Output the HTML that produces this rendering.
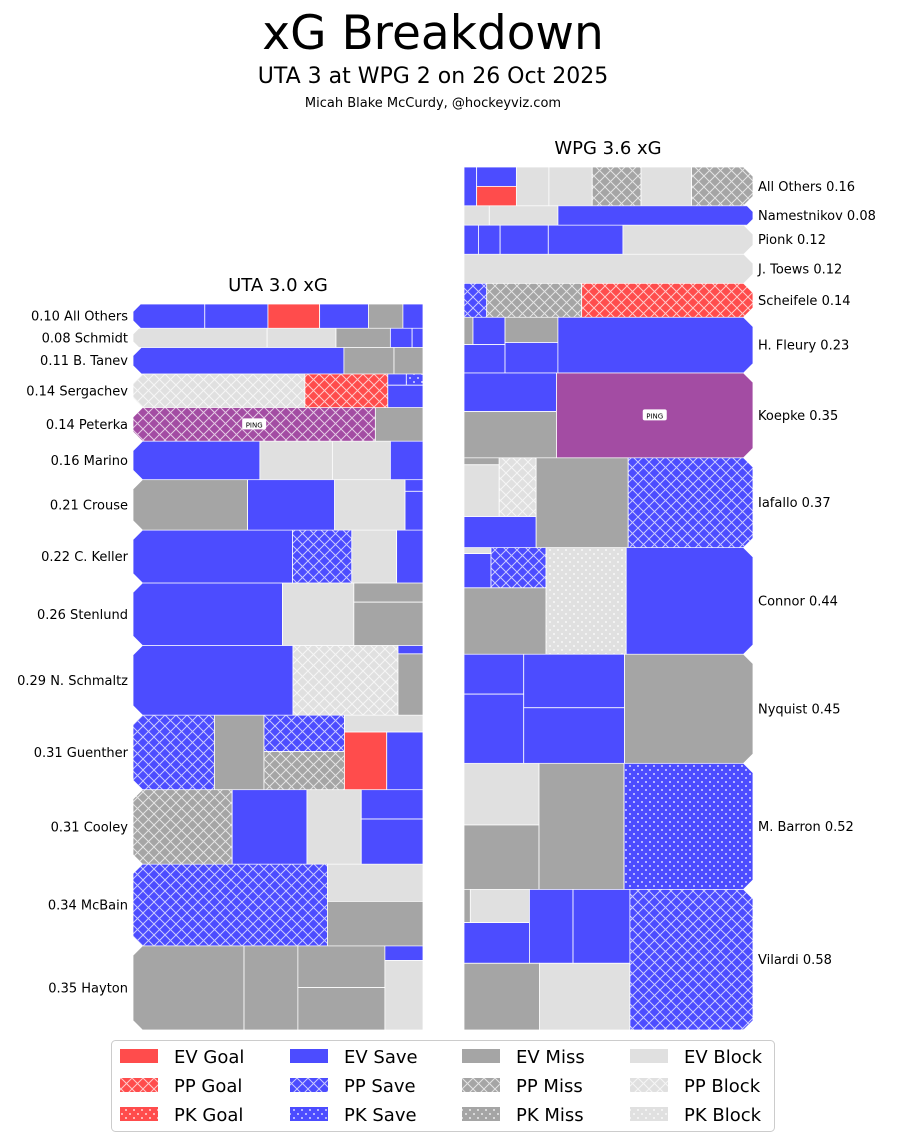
<!DOCTYPE html>
<html><head><meta charset="utf-8">
<style>
html,body{margin:0;padding:0;background:#fff;}
body{width:898px;height:1142px;overflow:hidden;font-family:"Liberation Sans","DejaVu Sans",sans-serif;}
</style></head>
<body>
<svg id="chart" width="898" height="1142" viewBox="0 0 898 1142" xmlns="http://www.w3.org/2000/svg" font-family="'DejaVu Sans','Liberation Sans',sans-serif">
<defs>
<pattern id="hatch" width="11" height="11" patternUnits="userSpaceOnUse">
<path d="M-1,1 L1,-1 M0,11 L11,0 M10,12 L12,10 M-1,10 L1,12 M0,0 L11,11 M10,-1 L12,1" stroke="#fff" stroke-opacity="0.7" stroke-width="1"/>
</pattern>
<pattern id="dots" width="8" height="8" patternUnits="userSpaceOnUse">
<circle cx="2" cy="2" r="0.9" fill="#fff"/><circle cx="6" cy="6" r="0.9" fill="#fff"/>
</pattern>
</defs>
<text x="433" y="49" font-size="47" text-anchor="middle">xG Breakdown</text>
<text x="433" y="83" font-size="22" text-anchor="middle">UTA 3 at WPG 2 on 26 Oct 2025</text>
<text x="433" y="107" font-size="13" text-anchor="middle">Micah Blake McCurdy, @hockeyviz.com</text>
<text x="278" y="291" font-size="18" text-anchor="middle">UTA 3.0 xG</text>
<text x="608" y="154" font-size="18" text-anchor="middle">WPG 3.6 xG</text>
<g id="uta"></g>
<g id="wpg"></g>
<g id="legend"></g>
</svg>
<script>
// ---------- data (nested slice-and-dice: row -> columns -> stacked cells -> ...) ----------
const utaPlayers = ["All Others","Schmidt","B. Tanev","Sergachev","Peterka","Marino","Crouse","C. Keller","Stenlund","N. Schmaltz","Guenther","Cooley","McBain","Hayton"];
const utaTotals = ["0.10","0.08","0.11","0.14","0.14","0.16","0.21","0.22","0.26","0.29","0.31","0.31","0.34","0.35"];
const utaShots = [
 [[[.025,"EVS"]],[[.022,"EVS"]],[[.018,"EVG"]],[[.017,"EVS"]],[[.012,"EVM"]],[[.007,"EVS"]]],
 [[[.037,"EVB"]],[[.019,"EVB"]],[[.015,"EVM"]],[[.006,"EVS"]],[[.003,"EVS"]]],
 [[[.080,"EVS"]],[[.019,"EVM"]],[[.011,"EVM"]]],
 [[[.083,"PPB"]],[[.040,"PPG"]],[[[[.003,"EVS"]],[[.0027,"PKS"]]],[.0113,"EVS"]]],
 [[[.117,"PINGH"]],[[.023,"EVM"]]],
 [[[.070,"EVS"]],[[.040,"EVB"]],[[.032,"EVB"]],[[.018,"EVS"]]],
 [[[.083,"EVM"]],[[.063,"EVS"]],[[.051,"EVB"]],[[.003,"EVS"],[.010,"EVS"]]],
 [[[.121,"EVS"]],[[.045,"PPS"]],[[.034,"EVB"]],[[.020,"EVS"]]],
 [[[.134,"EVS"]],[[.064,"EVB"]],[[.019,"EVM"],[.043,"EVM"]]],
 [[[.160,"EVS"]],[[.105,"PPB"]],[[.003,"EVS"],[.022,"EVM"]]],
 [[[.087,"PPS"]],[[.053,"EVM"]],[[.042,"PPS"],[.044,"PPM"]],[[.019,"EVB"],[[[.035,"EVG"]],[[.030,"EVS"]]]]],
 [[[.106,"PPM"]],[[.080,"EVS"]],[[.058,"EVB"]],[[.026,"EVS"],[.040,"EVS"]]],
 [[[.228,"PPS"]],[[.051,"EVB"],[.061,"EVM"]]],
 [[[.134,"EVM"]],[[.065,"EVM"]],[[.052,"EVM"],[.053,"EVM"]],[[.008,"EVS"],[.038,"EVB"]]]
];
const wpgPlayers = ["All Others","Namestnikov","Pionk","J. Toews","Scheifele","H. Fleury","Koepke","Iafallo","Connor","Nyquist","M. Barron","Vilardi"];
const wpgTotals = ["0.16","0.08","0.12","0.12","0.14","0.23","0.35","0.37","0.44","0.45","0.52","0.58"];
const wpgShots = [
 [[[.007,"EVS"]],[[.011,"EVS"],[.011,"EVG"]],[[.018,"EVB"]],[[.024,"EVB"]],[[.027,"PPM"]],[[.028,"EVB"]],[[.034,"PPM"]]],
 [[[.007,"EVB"]],[[.019,"EVB"]],[[.054,"EVS"]]],
 [[[.006,"EVS"]],[[.009,"EVS"]],[[.020,"EVS"]],[[.031,"EVS"]],[[.054,"EVB"]]],
 [[[.120,"EVB"]]],
 [[[.011,"PPS"]],[[.046,"PPM"]],[[.083,"PPG"]]],
 [[[[[.0035,"EVM"]],[[.0125,"EVS"]]],[.0166,"EVS"]],[[.019,"EVM"],[.023,"EVS"]],[[.155,"EVS"]]],
 [[[.051,"EVS"],[.061,"EVM"]],[[.238,"PING"]]],
 [[[[[.0035,"EVM"],[.026,"EVB"]],[[.031,"PPB"]]],[.032,"EVS"]],[[.118,"EVM"]],[[.160,"PPS"]]],
 [[[[[.0023,"EVB"],[.0132,"EVS"]],[[.0316,"PPS"]]],[.0778,"EVM"]],[[.122,"PKB"]],[[.193,"EVS"]]],
 [[[.034,"EVS"],[.059,"EVS"]],[[.077,"EVS"],[.080,"EVS"]],[[.200,"EVM"]]],
 [[[.066,"EVB"],[.069,"EVM"]],[[.153,"EVM"]],[[.232,"PKS"]]],
 [[[[[[[.003,"EVM"]],[[.028,"EVB"]]],[.038,"EVS"]],[[.046,"EVS"]],[[.060,"EVS"]]],[[[.072,"EVM"]],[[.086,"EVB"]]]],[[.247,"PPS"]]]
];
const legendLabels = ["EV Goal","PP Goal","PK Goal","EV Save","PP Save","PK Save","EV Miss","PP Miss","PK Miss","EV Block","PP Block","PK Block"];
const legendCodes = ["EVG","PPG","PKG","EVS","PPS","PKS","EVM","PPM","PKM","EVB","PPB","PKB"];

// ---------- style ----------
const NS="http://www.w3.org/2000/svg";
const baseColor={G:"#ff4c4c",S:"#4c4cff",M:"#a5a5a5",B:"#e0e0e0"};
function styleOf(code){
  if(code.startsWith("PING")) return {fill:"#a34ca3",pat:code==="PINGH"?"hatch":null};
  const c=baseColor[code[2]];
  const p=code.slice(0,2);
  return {fill:c,pat:p==="PP"?"hatch":(p==="PK"?"dots":null)};
}
function mk(tag,attrs,parent){const e=document.createElementNS(NS,tag);for(const k in attrs)e.setAttribute(k,attrs[k]);parent.appendChild(e);return e;}
const isShot=n=>typeof n[0]==="number";
function val(n){return isShot(n)?n[0]:n.reduce((s,c)=>s+val(c),0);}

function drawShot(s,x,y,w,h,parent){
  const st=styleOf(s[1]);
  const r=mk("rect",{x:x,y:y,width:w,height:h,fill:st.fill,stroke:"#fff","stroke-width":0.8},parent);
  
  
  if(st.pat){mk("rect",{x:x,y:y,width:w,height:h,fill:"url(#"+st.pat+")"},parent);}
  if(s[1].startsWith("PING")){
    const cx=x+w/2, cy=y+h/2;
    mk("rect",{x:cx-12,y:cy-6,width:24,height:11,rx:2,fill:"#fff"},parent);
    const t=mk("text",{x:cx,y:cy+3,"font-size":7,"text-anchor":"middle"},parent);
    t.textContent="PING";
    
    
  }
}
function layout(node,x,y,w,h,horiz,parent){
  if(isShot(node)){drawShot(node,x,y,w,h,parent);return;}
  const tot=val(node);
  let off=0;
  node.forEach(ch=>{
    const f=val(ch)/tot;
    if(horiz){layout(ch,x+off,y,w*f,h,false,parent);off+=w*f;}
    else{layout(ch,x,y+off,w,h*f,true,parent);off+=h*f;}
  });
}

function drawTeam(gid,team,players,totals,shots,x0,x1,top,bottom,side){
  const g=document.getElementById(gid);
  const rowSums=shots.map(val);
  const total=rowSums.reduce((a,b)=>a+b,0);
  const yScale=v=>v/total*(bottom-top);
  let y=top;
  shots.forEach((row,i)=>{
    const h=yScale(rowSums[i]);
    const rg=mk("g",{},g);
    
    
    const cut=Math.min(h/3,10);
    const cid=gid+"clip"+i;
    const cp=mk("clipPath",{id:cid},rg);
    let pts;
    if(side==="left") pts=[[x0+cut,y],[x1,y],[x1,y+h],[x0+cut,y+h],[x0,y+h-cut],[x0,y+cut]];
    else pts=[[x0,y],[x1-cut,y],[x1,y+cut],[x1,y+h-cut],[x1-cut,y+h],[x0,y+h]];
    mk("polygon",{points:pts.map(p=>p.join(",")).join(" ")},cp);
    const cg=mk("g",{"clip-path":"url(#"+cid+")"},rg);
    layout(row,x0,y,x1-x0,h,true,cg);
    const lbl=mk("text",{"font-size":13,"dominant-baseline":"central"},g);
    
    
    if(side==="left"){lbl.setAttribute("x",x0-5);lbl.setAttribute("text-anchor","end");lbl.textContent=totals[i]+" "+players[i];}
    else{lbl.setAttribute("x",x1+5);lbl.textContent=players[i]+" "+totals[i];}
    lbl.setAttribute("y",y+h/2+1);
    y+=h;
  });
}
drawTeam("uta","uta",utaPlayers,utaTotals,utaShots,133,423,304,1030,"left");
drawTeam("wpg","wpg",wpgPlayers,wpgTotals,wpgShots,464,753,167,1030,"right");

// legend
(function(){
  const g=document.getElementById("legend");
  const box=mk("rect",{x:111.5,y:1040.5,width:663,height:91,rx:4,fill:"#fff",stroke:"#ccc"},g);
  
  
  const colX=[120,290,462,630];
  const rowY=[1056,1085,1114];
  legendCodes.forEach((code,k)=>{
    const c=Math.floor(k/3), r=k%3;
    const st=styleOf(code);
    const eg=mk("g",{},g);
    
    
    mk("rect",{x:colX[c],y:rowY[r]-7,width:38,height:14,fill:st.fill},eg);
    if(st.pat) mk("rect",{x:colX[c],y:rowY[r]-7,width:38,height:14,fill:"url(#"+st.pat+")"},eg);
    const t=mk("text",{x:colX[c]+54,y:rowY[r]+7,"font-size":18},eg);
    t.textContent=legendLabels[k];
  });
})();
</script>
</body></html>
